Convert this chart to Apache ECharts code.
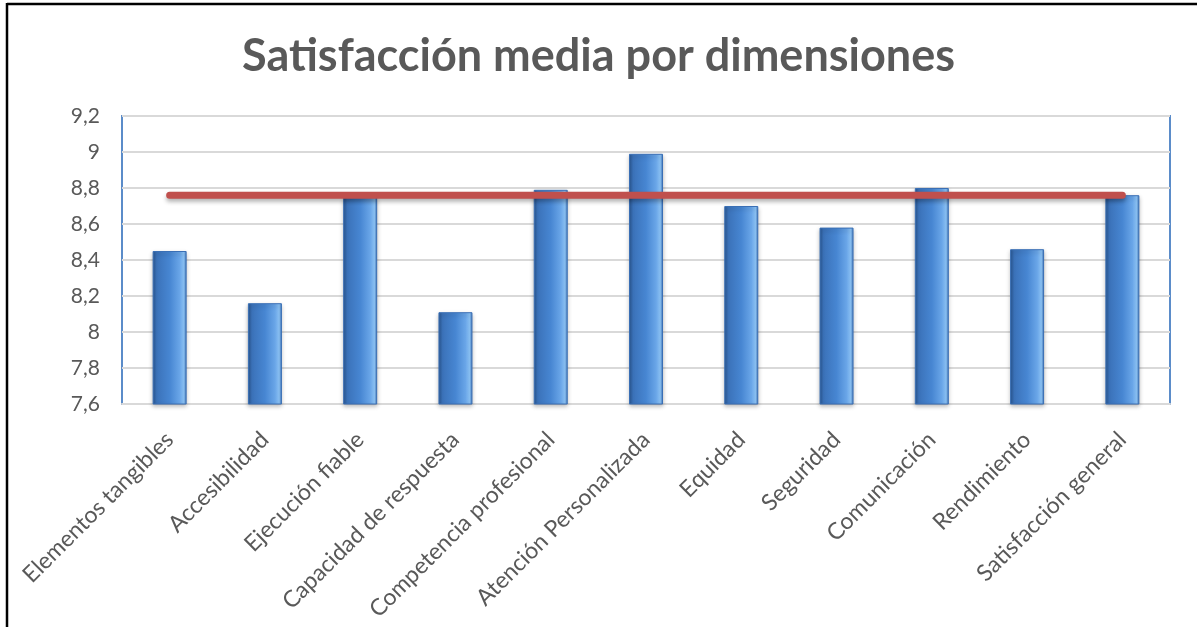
<!DOCTYPE html>
<html>
<head>
<meta charset="utf-8">
<script src="https://cdn.jsdelivr.net/npm/echarts@6/dist/echarts.min.js"></script>
<style>
  html, body { margin: 0; padding: 0; background: #fff; }
  #chart { width: 1197px; height: 627px; }
</style>
</head>
<body>
<div id="chart"></div>
<script>
// categorías del eje x
const categorias = [
  'Elementos tangibles', 'Accesibilidad', 'Ejecución fiable', 'Capacidad de respuesta',
  'Competencia profesional', 'Atención Personalizada', 'Equidad', 'Seguridad',
  'Comunicación', 'Rendimiento', 'Satisfacción general'
]
// satisfacción media de cada dimensión
const mediaDimension = [8.45, 8.16, 8.75, 8.11, 8.79, 8.99, 8.70, 8.58, 8.80, 8.46, 8.76]
// línea de referencia (satisfacción general)
const mediaGeneral = [8.76, 8.76, 8.76, 8.76, 8.76, 8.76, 8.76, 8.76, 8.76, 8.76, 8.76]
// eje y
const yMin = 7.6
const yMax = 9.2
const yPaso = 0.2

const chart = echarts.init(document.getElementById('chart'))

const option = {
  backgroundColor: '#fff',
  animation: false,
  title: {
    text: 'Satisfacción media por dimensiones',
    left: 'center',
    top: 29,
    textStyle: {
      fontFamily: 'Lato',
      fontWeight: 'bold',
      fontSize: 45,
      color: '#595959'
    }
  },
  // marco exterior: solo arriba e izquierda
  graphic: [
    { type: 'line', shape: { x1: 7, y1: 4, x2: 1197, y2: 4 }, style: { stroke: '#000', lineWidth: 2.5 } },
    { type: 'line', shape: { x1: 7, y1: 3, x2: 7, y2: 627 }, style: { stroke: '#000', lineWidth: 2.5 } }
  ],
  grid: {
    left: 122,
    top: 116,
    right: 27,
    bottom: 223,
    show: true,
    borderColor: '#5b8cc9',
    borderWidth: 2
  },
  xAxis: {
    type: 'category',
    data: categorias,
    axisLine: { lineStyle: { color: '#d9d9d9', width: 2 } },
    axisTick: { show: false },
    axisLabel: {
      rotate: 45,
      margin: 32,
      interval: 0,
      fontFamily: 'Lato',
      fontSize: 23,
      color: '#595959'
    }
  },
  yAxis: {
    type: 'value',
    min: yMin,
    max: yMax,
    interval: yPaso,
    axisLine: { show: false },
    axisTick: { show: false },
    splitLine: { lineStyle: { color: '#d9d9d9', width: 2 } },
    axisLabel: {
      margin: 22,
      fontFamily: 'Lato',
      fontSize: 21,
      color: '#595959',
      formatter: (v) => String(Number(v.toFixed(1))).replace('.', ',')
    }
  },
  series: [
    {
      type: 'bar',
      data: mediaDimension,
      barWidth: 34,
      itemStyle: {
        borderColor: '#3a6fb5',
        borderWidth: 1,
        shadowColor: 'rgba(0,0,0,0.25)',
        shadowBlur: 4,
        shadowOffsetY: 2,
        color: new echarts.graphic.LinearGradient(0, 0, 1, 0, [
          { offset: 0, color: '#28558f' },
          { offset: 0.12, color: '#3b72b9' },
          { offset: 0.5, color: '#4786d2' },
          { offset: 0.8, color: '#6aa6e8' },
          { offset: 0.92, color: '#8cc3f6' },
          { offset: 1, color: '#3d74bb' }
        ])
      },
      z: 2
    },
    {
      type: 'line',
      data: mediaGeneral,
      symbol: 'none',
      lineStyle: {
        color: '#c0504d',
        width: 7,
        cap: 'round',
        shadowColor: 'rgba(0,0,0,0.3)',
        shadowBlur: 4,
        shadowOffsetY: 3
      },
      z: 3
    }
  ]
}

chart.setOption(option)
</script>
</body>
</html>
